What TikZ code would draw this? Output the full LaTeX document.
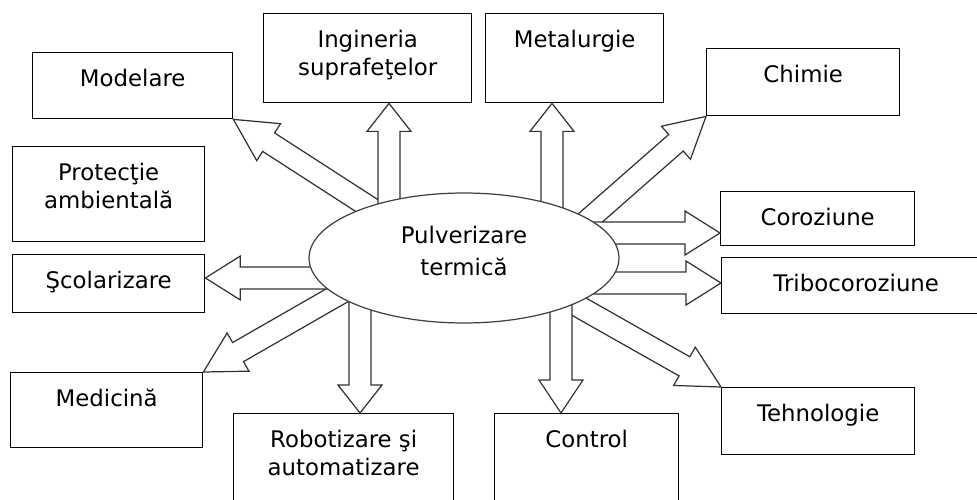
\documentclass[tikz,border=0pt]{standalone}
\usepackage{fontspec}
\setmainfont{DejaVu Sans}
\usetikzlibrary{calc,positioning,shapes.geometric}

\tikzset{
  box/.style={draw, line width=0.8pt, anchor=north west, inner sep=0pt},
  lbl/.style={inner sep=0pt, outer sep=0pt, align=center, font=\fontsize{13}{16}\selectfont},
  blockarr/.style={draw=black!80, line width=0.7pt, fill=white, line join=miter},
}

% hollow block arrow: [head length]{start}{tip}
\newcommand{\blockarrow}[3][0.7cm]{%
  \coordinate (hb) at ($(#3)!#1!(#2)$);
  \draw[blockarr] ($(#2)!0.22cm!90:(#3)$) -- ($(hb)!0.22cm!90:(#3)$)
    -- ($(hb)!0.44cm!90:(#3)$) -- (#3) -- ($(hb)!0.44cm!-90:(#3)$)
    -- ($(hb)!0.22cm!-90:(#3)$) -- ($(#2)!0.22cm!-90:(#3)$);
}

\begin{document}
\begin{tikzpicture}[x=0.02cm, y=-0.02cm]
  \useasboundingbox (0,0) rectangle (977,500);
  \clip (0,0) rectangle (977,500);

  % boxes
  \node[box, minimum width=4cm, minimum height=1.32cm] (modelare) at (32,52) {};
  \node[box, minimum width=4.16cm, minimum height=1.78cm] (ingineria) at (263,13) {};
  \node[box, minimum width=3.84cm, minimum height=1.9cm] (protectie) at (12,146) {};
  \node[box, minimum width=3.56cm, minimum height=1.78cm] (metalurgie) at (485,13) {};
  \node[box, minimum width=3.86cm, minimum height=1.34cm] (chimie) at (706,48) {};
  \node[box, minimum width=3.88cm, minimum height=1.08cm] (coroziune) at (720,191) {};
  \node[box, minimum width=5.38cm, minimum height=1.12cm] (tribo) at (721,257) {};
  \node[box, minimum width=3.86cm, minimum height=1.34cm] (tehnologie) at (721,387) {};
  \node[box, minimum width=3.68cm, minimum height=2cm] (control) at (494,413) {};
  \node[box, minimum width=3.84cm, minimum height=1.16cm] (scolarizare) at (12,254) {};
  \node[box, minimum width=3.84cm, minimum height=1.5cm] (medicina) at (10,372) {};
  \node[box, minimum width=4.4cm, minimum height=2cm] (robotizare) at (233,413) {};

  % labels
  \node[lbl, below=0.34cm of modelare.north] (modelare-t) {Modelare};
  \node[lbl, below=0.34cm of ingineria.north] (ingineria-t) {Ingineria\\suprafeţelor};
  \node[lbl, below=0.34cm of protectie.north] (protectie-t) {Protecţie\\ambientală};
  \node[lbl, below=0.34cm of metalurgie.north] (metalurgie-t) {Metalurgie};
  \node[lbl, below=0.34cm of chimie.north] (chimie-t) {Chimie};
  \node[lbl, below=0.34cm of coroziune.north] (coroziune-t) {Coroziune};
  \node[lbl, below=0.34cm of tribo.north] (tribo-t) {Tribocoroziune};
  \node[lbl, below=0.34cm of tehnologie.north] (tehnologie-t) {Tehnologie};
  \node[lbl, below=0.34cm of control.north] (control-t) {Control};
  \node[lbl, below=0.34cm of scolarizare.north] (scolarizare-t) {Şcolarizare};
  \node[lbl, below=0.34cm of medicina.north] (medicina-t) {Medicină};
  \node[lbl, below=0.34cm of robotizare.north] (robotizare-t) {Robotizare şi\\automatizare};

  % arrow starts, inside the ellipse
  \coordinate (s-mod) at (383,216);
  \coordinate (s-ing) at (389,230);
  \coordinate (s-met) at (552,230);
  \coordinate (s-chi) at (572,234);
  \coordinate (s-cor) at (590,233);
  \coordinate (s-tri) at (590,283);
  \coordinate (s-teh) at (553,292);
  \coordinate (s-ctl) at (561,290);
  \coordinate (s-rob) at (360,290);
  \coordinate (s-med) at (355,285);
  \coordinate (s-sco) at (340,278);

  % arrows
  \blockarrow[0.84cm]{s-mod}{modelare.south east}
  \blockarrow[0.56cm]{s-ing}{s-ing |- ingineria.south}
  \blockarrow[0.56cm]{s-met}{s-met |- metalurgie.south}
  \blockarrow[0.8cm]{s-chi}{chimie.south west}
  \blockarrow{s-cor}{s-cor -| coroziune.west}
  \blockarrow{s-tri}{s-tri -| tribo.west}
  \blockarrow[0.84cm]{s-teh}{tehnologie.north west}
  \blockarrow[0.66cm]{s-ctl}{s-ctl |- control.north}
  \blockarrow[0.56cm]{s-rob}{s-rob |- robotizare.north}
  \blockarrow[0.8cm]{s-med}{medicina.north east}
  \blockarrow{s-sco}{s-sco -| scolarizare.east}

  % centre
  \node[ellipse, draw=black!75, line width=0.7pt, fill=white, minimum width=6.2cm,
        minimum height=2.6cm] (pulv) at (464,258) {};
  \node[lbl] (pulv-t) at ($(pulv.center)+(0,-7)$) {Pulverizare\\[2pt]termică};
\end{tikzpicture}
\end{document}
